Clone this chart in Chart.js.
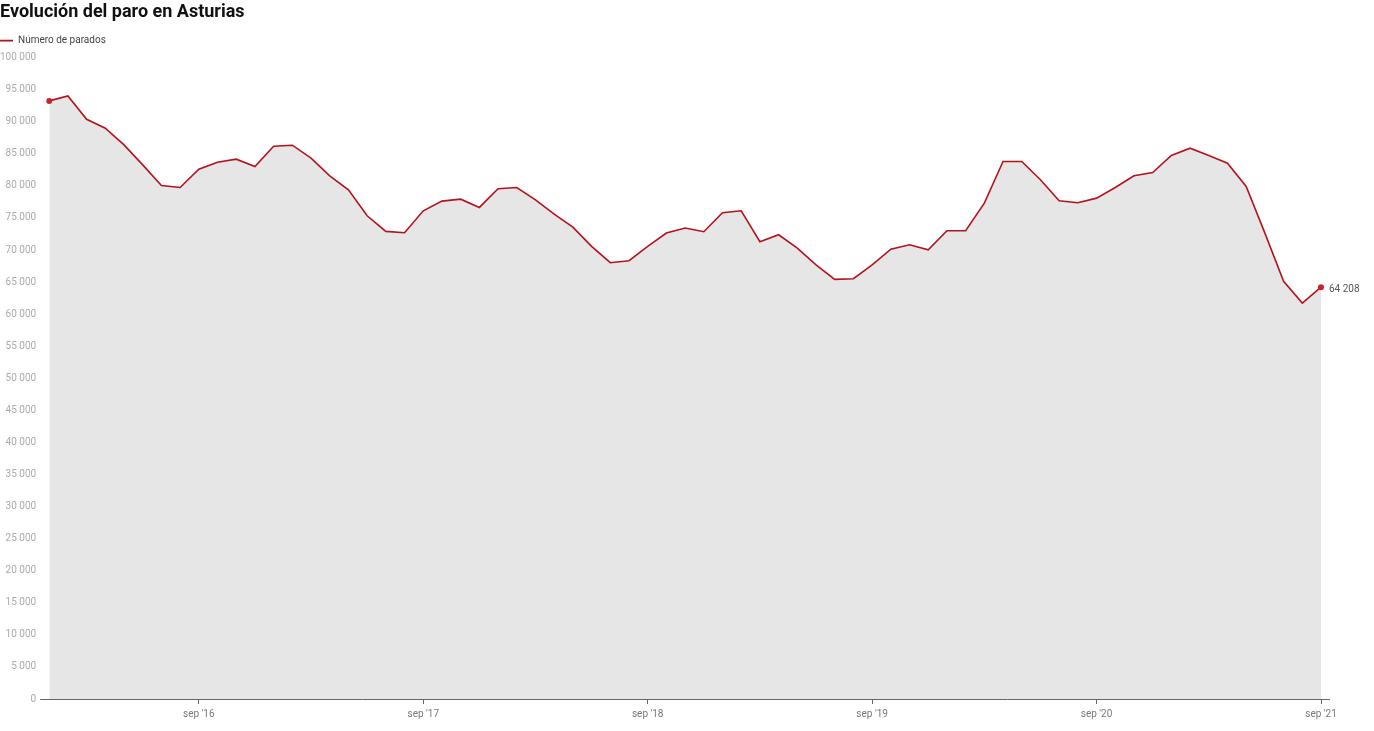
<!DOCTYPE html>
<html lang="es">
<head>
<meta charset="utf-8">
<script src="https://cdn.jsdelivr.net/npm/chart.js@4.4.1/dist/chart.umd.min.js"></script>
<style>
html, body { margin: 0; padding: 0; background: #fff; }
#wrap { position: relative; width: 1374px; height: 731px; }
</style>
</head>
<body>
<div id="wrap"><canvas id="paroChart"></canvas></div>
<script>
const monthNames = ['ene', 'feb', 'mar', 'abr', 'may', 'jun', 'jul', 'ago', 'sep', 'oct', 'nov', 'dic'];
const years = ['16', '17', '18', '19', '20', '21'];
const seriesName = 'Número de parados';

// paro registrado, ene 2016 - sep 2021
const parados = [
  93250, 94030, 90390, 88990, 86400, 83280, 80060, 79750, 82600, 83690, 84160, 83020, // 2016
  86190, 86340, 84320, 81570, 79390, 75340, 72900, 72690, 76120, 77620, 77930, 76640, // 2017
  79550, 79750, 77830, 75600, 73570, 70560, 68020, 68330, 70560, 72640, 73420, 72850, // 2018
  75810, 76120, 71290, 72380, 70300, 67700, 65420, 65530, 67700, 70140, 70820, 70040, // 2019
  73000, 73000, 77310, 83800, 83800, 80950, 77680, 77370, 78090, 79750, 81570, 82090, // 2020
  84740, 85880, 84740, 83540, 79910, 72640, 65110, 61730, 64208                        // 2021
];

const labels = [];
years.forEach(y => monthNames.forEach(m => labels.push(m + " '" + y)));
labels.length = parados.length;

const fmt = v => String(v).replace(/\B(?=(\d{3})+(?!\d))/g, ' ');
const red = '#b5121b';
const lastIdx = parados.length - 1;

const extras = {
  id: 'extras',
  beforeLayout(chart) {
    if (chart.legend && !chart.legend._patched) {
      const fit = chart.legend.fit;
      chart.legend.fit = function () { fit.call(this); this.height += 2; };
      chart.legend._patched = true;
    }
  },
  afterDatasetsDraw(chart) {
    const { ctx, chartArea } = chart;
    ctx.save();
    ctx.strokeStyle = '#666';
    ctx.lineWidth = 1;
    ctx.beginPath();
    ctx.moveTo(chartArea.left - 9, Math.round(chartArea.bottom) + 0.5);
    ctx.lineTo(chartArea.right + 9, Math.round(chartArea.bottom) + 0.5);
    ctx.stroke();

    const pt = chart.getDatasetMeta(0).data[lastIdx];
    ctx.fillStyle = '#555';
    ctx.font = '10px Roboto';
    ctx.textBaseline = 'middle';
    ctx.fillText(fmt(parados[lastIdx]), pt.x + 8, pt.y + 2);
    ctx.restore();
  }
};

new Chart(document.getElementById('paroChart'), {
  type: 'line',
  data: {
    labels: labels,
    datasets: [{
      label: seriesName,
      data: parados,
      borderColor: red,
      borderWidth: 1.6,
      backgroundColor: '#e6e6e6',
      fill: 'origin',
      tension: 0,
      pointRadius: ctx => (ctx.dataIndex === 0 || ctx.dataIndex === lastIdx) ? 3 : 0,
      pointBackgroundColor: '#c8232b',
      pointBorderWidth: 0,
      pointHoverRadius: 3
    }]
  },
  options: {
    responsive: true,
    maintainAspectRatio: false,
    animation: false,
    layout: { padding: { left: 0, right: 53, top: 0, bottom: 7 } },
    plugins: {
      title: {
        display: true,
        text: 'Evolución del paro en Asturias',
        align: 'start',
        color: '#111',
        font: { family: 'Roboto', size: 18, weight: 'bold' },
        padding: { top: 2, bottom: 12 }
      },
      legend: {
        display: true,
        position: 'top',
        align: 'start',
        labels: {
          usePointStyle: true,
          pointStyle: 'line',
          pointStyleWidth: 13,
          boxHeight: 8,
          padding: 0,
          color: '#444',
          font: { family: 'Roboto', size: 10 },
          generateLabels: chart => {
            const items = Chart.defaults.plugins.legend.labels.generateLabels(chart);
            items.forEach(it => { it.strokeStyle = red; it.lineWidth = 1.6; it.pointStyle = 'line'; });
            return items;
          }
        }
      },
      tooltip: { enabled: false }
    },
    scales: {
      x: {
        offset: false,
        grid: { display: true, drawOnChartArea: false, drawTicks: true, tickLength: 5, tickColor: '#666' },
        border: { display: false },
        afterBuildTicks: scale => {
          scale.ticks = scale.ticks.filter(t => labels[t.value].startsWith('sep'));
        },
        ticks: {
          autoSkip: false,
          maxRotation: 0,
          padding: 4,
          color: '#777',
          font: { family: 'Roboto', size: 10 }
        }
      },
      y: {
        min: 0,
        max: 100000,
        grid: { display: false, drawTicks: true, tickLength: 13 },
        border: { display: false },
        ticks: {
          stepSize: 5000,
          padding: 0,
          color: '#aaa',
          font: { family: 'Roboto', size: 10 },
          callback: v => fmt(v)
        }
      }
    }
  },
  plugins: [extras]
});
</script>
</body>
</html>
